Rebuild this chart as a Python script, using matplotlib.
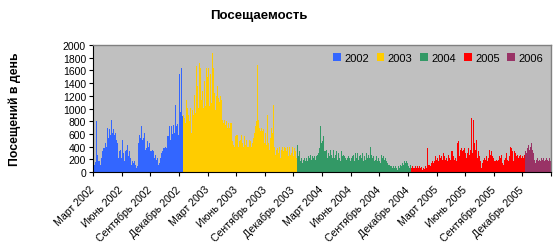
import numpy as np
import matplotlib.pyplot as plt
from matplotlib.patches import Patch

plt.rcParams['font.family'] = ['Liberation Sans', 'DejaVu Sans']

# daily visits, one value per ~3 days
visits_2002 = [90, 110, 150, 800, 270, 170, 170, 115, 220, 325, 380, 380, 460, 400, 690, 535,
               670, 590, 815, 615, 670, 590, 615, 510, 460, 220, 325, 350, 220, 510, 300, 170,
               325, 350, 430, 250, 325, 220, 115, 170, 140, 170, 115, 60, 90, 460, 590, 535,
               720, 510, 535, 615, 350, 380, 485, 400, 460, 325, 325, 350, 325, 220, 270, 195,
               220, 115, 140, 220, 300, 325, 380, 380, 400, 380, 560, 560, 720, 510, 720,
               600, 740, 620, 1050, 720, 760, 580, 1550, 950, 1630, 880]
visits_2003 = [900, 850, 770, 1140, 1010, 900, 800, 1010, 615, 980, 900, 1220, 930, 1665, 1350,
               1010, 1715, 1640, 1140, 1270, 1010, 1430, 1040, 1640, 1500, 1640, 1040, 1550, 1090,
               1875, 1640, 1245, 980, 1190, 1350, 1165, 1110, 1190, 1140, 825, 770, 825, 745, 800,
               690, 770, 690, 770, 770, 485, 430, 400, 560, 590, 590, 400, 485, 510, 590, 460,
               400, 560, 430, 510, 400,
               400, 510, 485, 400, 460, 535, 615, 720, 800, 1690, 825, 690, 640, 690, 640, 670,
               460, 615, 430, 900, 460, 350, 535, 690, 615, 1060, 400, 270, 350, 380, 300, 400,
               220, 350, 400, 325, 400, 380, 325, 400, 250, 400, 270, 300, 400, 250, 380, 325, 220]
visits_2004 = [430, 250, 325, 170, 220, 140, 195, 220, 170, 220, 170, 250, 220, 270, 195, 250,
               220, 250, 195, 250, 270, 300, 380, 720, 460, 535, 485, 560, 325,
               325, 350, 220, 300, 250, 350, 270, 220, 350, 220, 270, 325, 195, 300, 220, 170,
               325, 250, 270, 250, 220, 195, 220, 250, 220, 170, 220, 250, 270, 170, 300, 220,
               300, 195, 250, 270, 220, 300, 170, 250, 195, 300, 220, 270, 220, 400, 270, 220,
               250, 170, 195, 250, 170, 220, 170, 140, 270, 220, 250, 195, 220, 170, 140, 115,
               115, 90, 90, 60, 90, 60, 90, 60, 35, 90, 60, 115, 90, 140, 115, 170,
               140, 170, 140, 90, 60, 115]
visits_2005 = [60, 90, 60, 60, 90, 60, 90, 60, 90, 60, 80, 35, 60, 45, 90, 60, 380, 115, 115, 90,
               140, 170, 140, 170, 250, 195, 220, 170, 270, 220, 250, 195, 300, 250, 195, 220,
               170, 270, 220, 195, 325, 325, 250, 195, 220, 170, 460, 485, 250, 350, 380, 325,
               350, 380, 300, 220, 300, 380, 270, 350, 850, 300, 825, 460, 350, 510, 220, 325,
               250, 170, 60, 140,
               195, 220, 195, 250, 170, 220, 350, 270, 325, 250, 220, 170, 170, 195, 170, 195,
               250, 220, 270, 140, 115, 195, 220, 300, 195, 170, 250, 400, 380, 325, 170, 325,
               300, 250, 270, 220, 250, 270, 220, 250, 220, 270]
visits_2006 = [325, 300, 380, 430, 350, 400, 460, 350, 300, 195, 140, 195, 220, 170, 195, 170,
               220, 195, 220, 170, 195, 220, 195, 170, 220, 170]

years = ['2002', '2003', '2004', '2005', '2006']
series = [visits_2002, visits_2003, visits_2004, visits_2005, visits_2006]
colors = ['#3366FF', '#FFCC00', '#339966', '#FF0000', '#993366']

tick_labels = ['Март 2002', 'Июнь 2002', 'Сентябрь 2002', 'Декабрь 2002',
               'Март 2003', 'Июнь 2003', 'Сентябрь 2003', 'Декабрь 2003',
               'Март 2004', 'Июнь 2004', 'Сентябрь 2004', 'Декабрь 2004',
               'Март 2005', 'Июнь 2005', 'Сентябрь 2005', 'Декабрь 2005']

fig = plt.figure(figsize=(5.56, 2.51), dpi=100)
ax = fig.add_axes([93/556, 1 - 173/251, 458/556, 127/251])
ax.set_facecolor('#C0C0C0')

# each year as a filled step outline, so neighbouring bars have no seams
start = 0
for yr, vals, c in zip(years, series, colors):
    edges = np.arange(start, start + len(vals) + 1)
    ax.stairs(vals, edges, fill=True, color=c, linewidth=0, antialiased=False, label=yr)
    start += len(vals)
total = start

ax.set_xlim(0, total)
ax.set_ylim(0, 2000)
ax.set_yticks(np.arange(0, 2001, 200))
ticks = np.linspace(0, total, len(tick_labels) + 1)
ax.set_xticks(ticks)
ax.set_xticklabels(tick_labels + [''], rotation=45, ha='right', va='center',
                   rotation_mode='anchor', fontsize=7.6)
ax.tick_params(axis='y', labelsize=7.5, length=3, width=0.8, pad=2)
ax.tick_params(axis='x', length=3, width=0.8, pad=8)

for side in ['top', 'right']:
    ax.spines[side].set_color('#808080')
    ax.spines[side].set_linewidth(1)
for side in ['left', 'bottom']:
    ax.spines[side].set_color('black')
    ax.spines[side].set_linewidth(0.8)

handles = [Patch(facecolor=c, edgecolor='none') for c in colors]
ax.legend(handles, years, loc='upper right', ncol=5, frameon=False, fontsize=8,
          handlelength=0.7, handleheight=0.7, handletextpad=0.3, columnspacing=0.7,
          borderaxespad=0.3, bbox_to_anchor=(1.0, 1.0))

fig.text(259/556, 1 - 16/251, 'Посещаемость', ha='center', va='center', fontsize=9.5, fontweight='bold')
fig.text(15/556, 1 - 109/251, 'Посещений в день', ha='center', va='center', rotation=90,
         fontsize=8.8, fontweight='bold')

plt.savefig('out.png', dpi=100)
